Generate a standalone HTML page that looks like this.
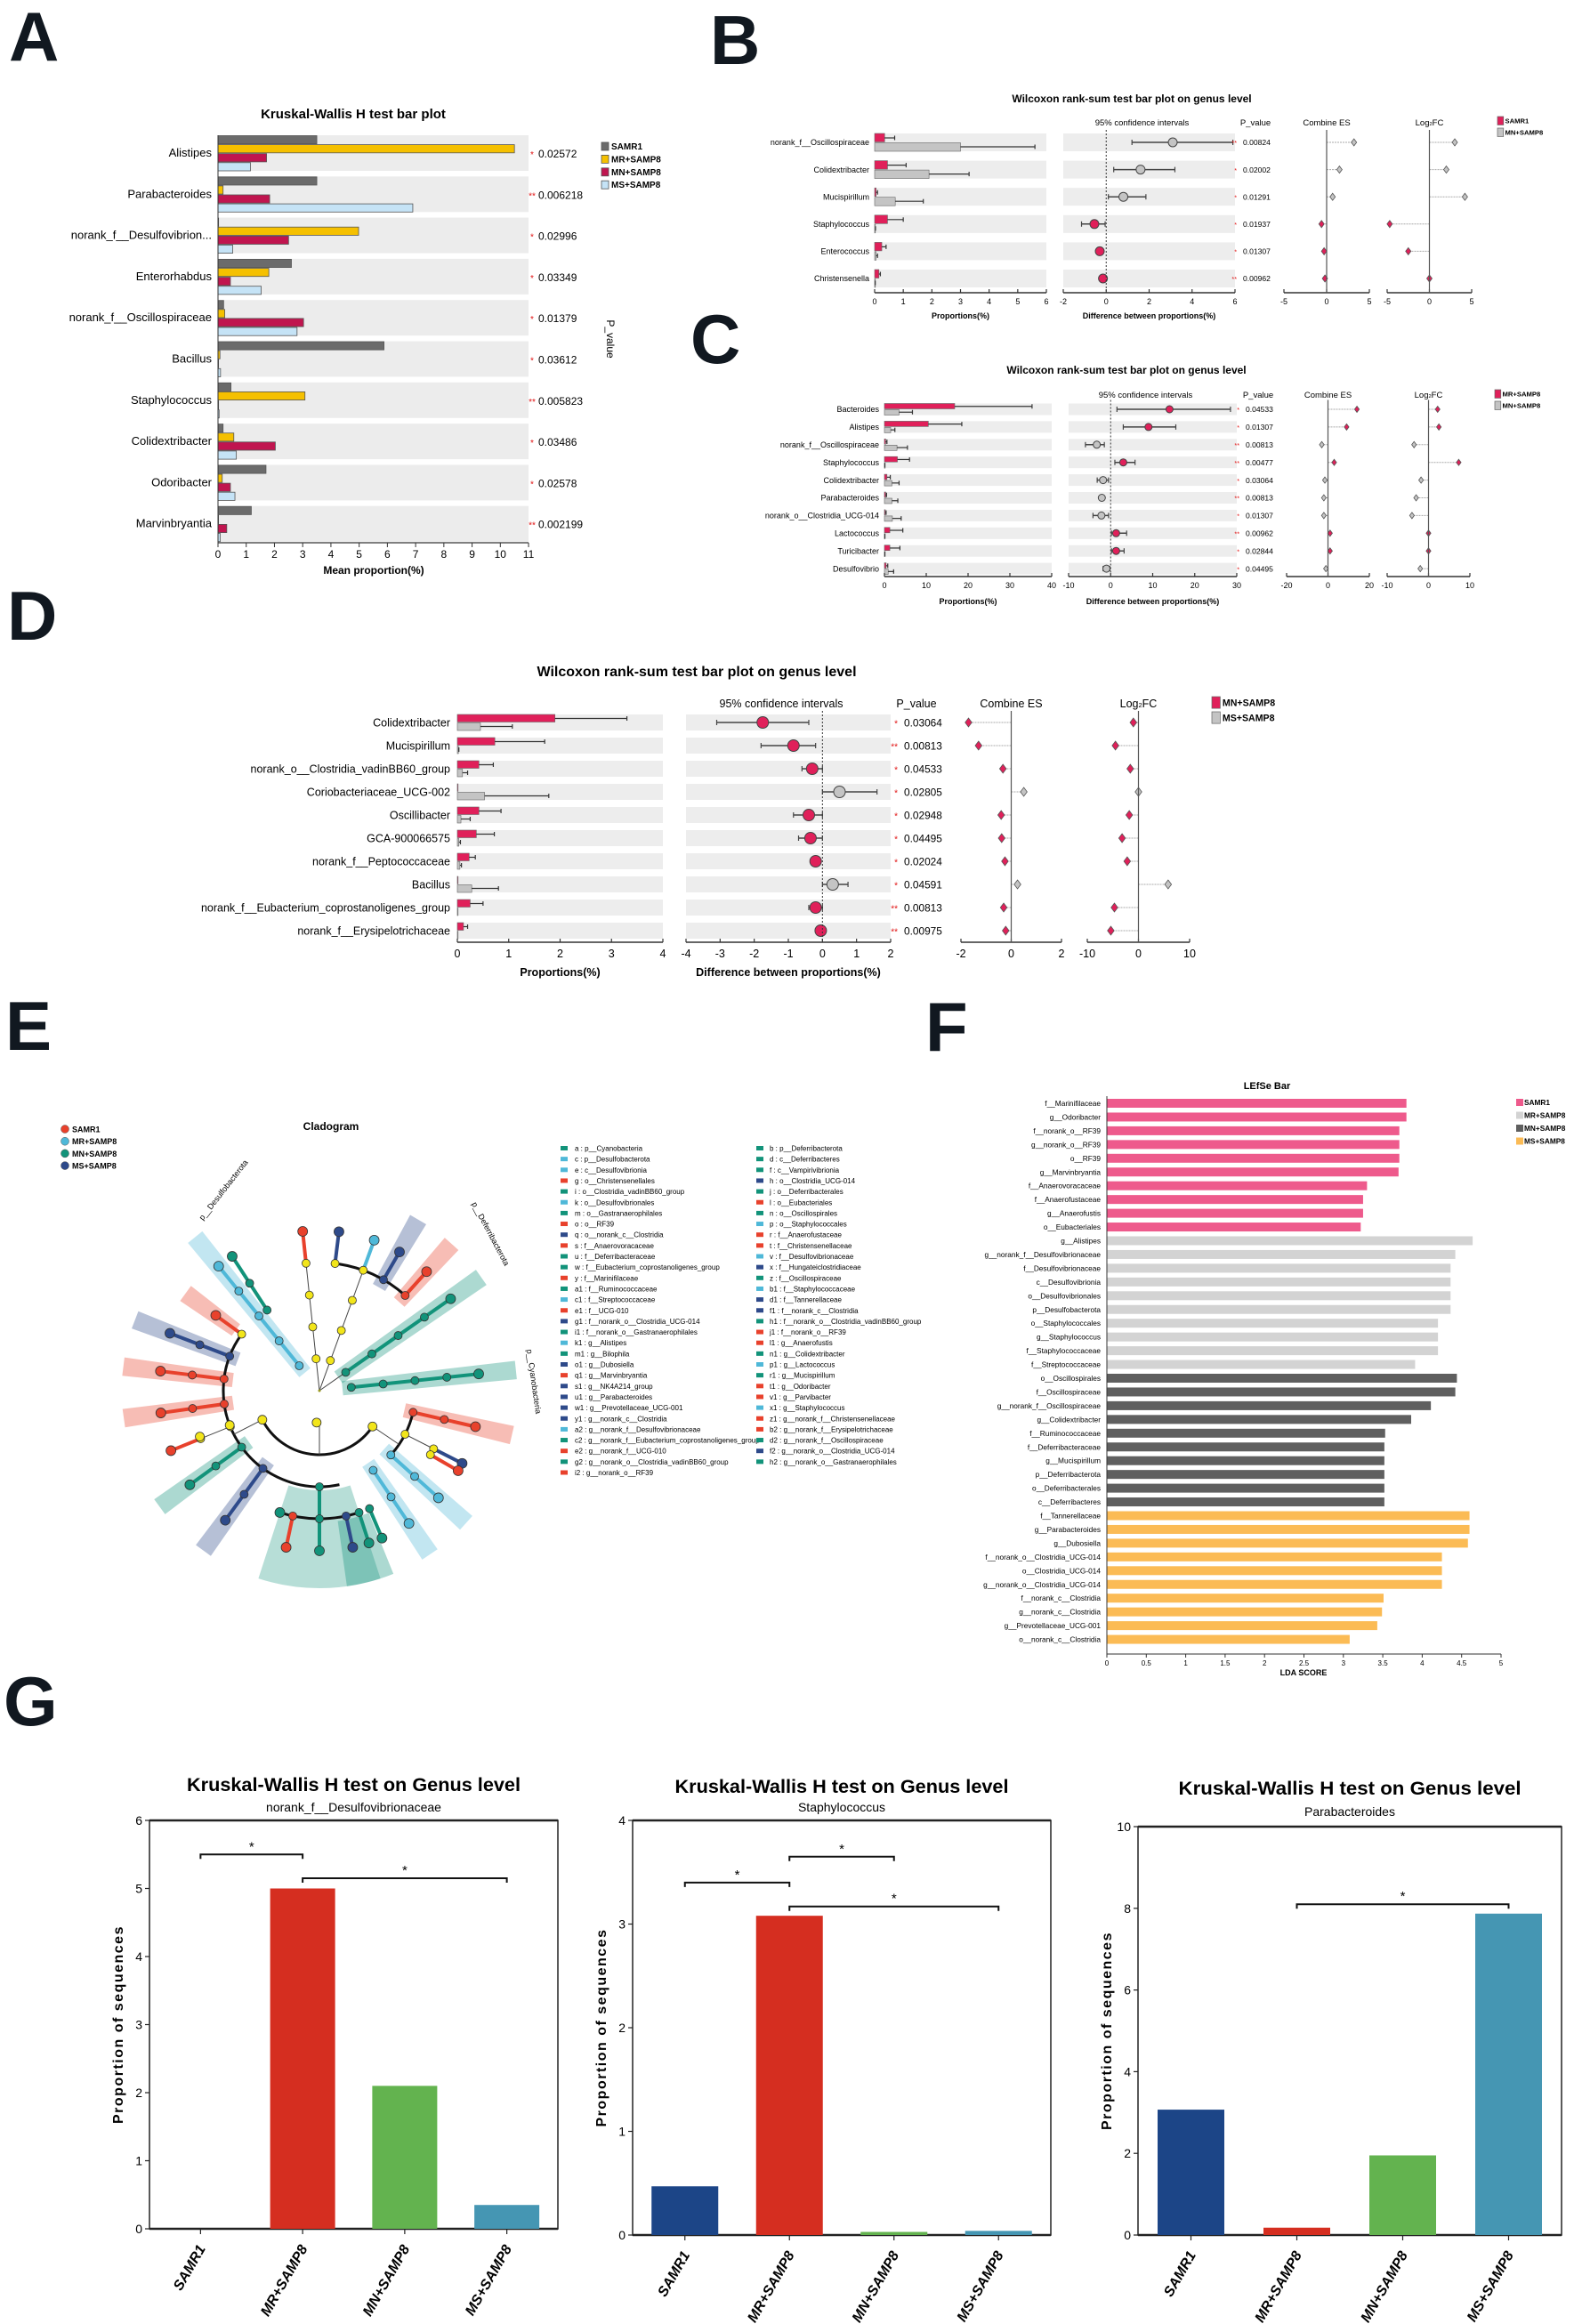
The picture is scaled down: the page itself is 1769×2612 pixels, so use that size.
<!DOCTYPE html>
<html><head><meta charset="utf-8">
<style>
html,body{margin:0;padding:0;background:#fff;}
svg{display:block;font-family:"Liberation Sans Narrow","Liberation Sans",sans-serif;}
.L{font-family:"Liberation Sans",sans-serif;font-weight:bold;}
</style></head>
<body>
<svg id="fig" xmlns="http://www.w3.org/2000/svg" width="1769" height="2612" viewBox="0 0 1769 2612">
<rect x="0" y="0" width="1769" height="2612" fill="#fff"/>
<text class="L" x="10" y="68" font-size="78" fill="#111820">A</text>
<text class="L" x="798" y="72" font-size="78" fill="#111820">B</text>
<text class="L" x="776" y="408" font-size="78" fill="#111820">C</text>
<text class="L" x="8" y="719" font-size="78" fill="#111820">D</text>
<text class="L" x="6" y="1180" font-size="78" fill="#111820">E</text>
<text class="L" x="1040" y="1181" font-size="78" fill="#111820">F</text>
<text class="L" x="4" y="1939" font-size="78" fill="#111820">G</text>
</svg>
<script>
// ---------- Panel A data ----------
const aCats=["Alistipes","Parabacteroides","norank_f__Desulfovibrion...","Enterorhabdus","norank_f__Oscillospiraceae","Bacillus","Staphylococcus","Colidextribacter","Odoribacter","Marvinbryantia"];
const aSAMR1=[3.5,3.5,0.02,2.6,0.2,5.88,0.46,0.18,1.7,1.18];
const aMR=[10.5,0.18,4.98,1.8,0.24,0.07,3.08,0.56,0.15,0.0];
const aMN=[1.72,1.83,2.5,0.44,3.03,0.01,0.02,2.03,0.44,0.31];
const aMS=[1.15,6.9,0.52,1.53,2.8,0.09,0.04,0.65,0.6,0.08];
const aP=["0.02572","0.006218","0.02996","0.03349","0.01379","0.03612","0.005823","0.03486","0.02578","0.002199"];
const aStars=["*","**","*","*","*","*","**","*","*","**"];
const aTicks=[0,1,2,3,4,5,6,7,8,9,10,11];
const aGroups=["SAMR1","MR+SAMP8","MN+SAMP8","MS+SAMP8"];

// ---------- Panel B data ----------
const bCats=["norank_f__Oscillospiraceae","Colidextribacter","Mucispirillum","Staphylococcus","Enterococcus","Christensenella"];
const bP1=[0.35,0.45,0.05,0.45,0.25,0.15];
const bE1=[0.7,1.1,0.1,1.0,0.4,0.2];
const bP2=[3.0,1.9,0.72,0.02,0.05,0.01];
const bE2=[5.6,3.3,1.7,0.03,0.1,0.02];
const bDiff=[3.1,1.6,0.8,-0.55,-0.3,-0.15];
const bLo=[1.2,0.35,0.1,-1.15,-0.3,-0.15];
const bHi=[5.9,3.2,1.85,-0.05,-0.3,-0.15];
const bES=[3.2,1.5,0.7,-0.6,-0.3,-0.2];
const bLFC=[3.0,2.0,4.2,-4.7,-2.5,0];
const bPv=["0.00824","0.02002","0.01291","0.01937","0.01307","0.00962"];
const bSt=["**","*","*","*","*","**"];

// ---------- Panel C data ----------
const cCats=["Bacteroides","Alistipes","norank_f__Oscillospiraceae","Staphylococcus","Colidextribacter","Parabacteroides","norank_o__Clostridia_UCG-014","Lactococcus","Turicibacter","Desulfovibrio"];
const cP1=[16.8,10.5,0.3,3.1,0.6,0.3,0.2,1.3,1.3,0.4];
const cE1=[35.3,18.5,0.6,6.0,1.4,0.5,0.4,4.4,3.7,0.8];
const cP2=[3.5,1.5,3.0,0.05,1.8,1.8,1.9,0.05,0.05,0.9];
const cE2=[6.7,2.5,5.5,0.1,3.5,3.2,4.0,0.1,0.1,2.2];
const cDiff=[14,9,-3.3,3,-1.8,-2.1,-2.2,1.3,1.3,-1];
const cLo=[1.5,3,-6,1,-3.2,-2.5,-4.2,0.2,0.2,-1.8];
const cHi=[28.5,15.5,-1.5,5.8,-0.5,-1.7,-0.5,3.8,3.2,-0.2];
const cES=[14,9,-3,3,-1.5,-2,-2,1,1,-1];
const cLFC=[2.2,2.5,-3.5,7.3,-1.8,-3,-4,0,0,-2];
const cPv=["0.04533","0.01307","0.00813","0.00477","0.03064","0.00813","0.01307","0.00962","0.02844","0.04495"];
const cSt=["*","*","**","**","*","**","*","**","*","*"];

// ---------- Panel D data ----------
const dCats=["Colidextribacter","Mucispirillum","norank_o__Clostridia_vadinBB60_group","Coriobacteriaceae_UCG-002","Oscillibacter","GCA-900066575","norank_f__Peptococcaceae","Bacillus","norank_f__Eubacterium_coprostanoligenes_group","norank_f__Erysipelotrichaceae"];
const dP1=[1.9,0.73,0.42,0.0,0.42,0.37,0.23,0.0,0.25,0.12];
const dE1=[3.3,1.7,0.7,0.0,0.85,0.72,0.35,0.0,0.5,0.2];
const dP2=[0.45,0.02,0.1,0.53,0.07,0.03,0.05,0.28,0.0,0.0];
const dE2=[1.07,0.03,0.2,1.78,0.25,0.06,0.08,0.8,0.0,0.0];
const dDiff=[-1.75,-0.85,-0.3,0.5,-0.4,-0.35,-0.2,0.3,-0.2,-0.05];
const dLo=[-3.1,-1.8,-0.6,0,-0.85,-0.7,-0.2,0,-0.4,-0.05];
const dHi=[-0.4,-0.2,0,1.6,0,0,-0.2,0.75,0,-0.05];
const dES=[-1.7,-1.3,-0.33,0.5,-0.4,-0.38,-0.25,0.25,-0.3,-0.22];
const dLFC=[-1.0,-4.5,-1.6,0,-1.8,-3.2,-2.2,5.8,-4.7,-5.4];
const dPv=["0.03064","0.00813","0.04533","0.02805","0.02948","0.04495","0.02024","0.04591","0.00813","0.00975"];
const dSt=["*","**","*","*","*","*","*","*","**","**"];

// ---------- Panel F data ----------
const fCats=["f__Marinifilaceae","g__Odoribacter","f__norank_o__RF39","g__norank_o__RF39","o__RF39","g__Marvinbryantia","f__Anaerovoracaceae","f__Anaerofustaceae","g__Anaerofustis","o__Eubacteriales",
"g__Alistipes","g__norank_f__Desulfovibrionaceae","f__Desulfovibrionaceae","c__Desulfovibrionia","o__Desulfovibrionales","p__Desulfobacterota","o__Staphylococcales","g__Staphylococcus","f__Staphylococcaceae","f__Streptococcaceae",
"o__Oscillospirales","f__Oscillospiraceae","g__norank_f__Oscillospiraceae","g__Colidextribacter","f__Ruminococcaceae","f__Deferribacteraceae","g__Mucispirillum","p__Deferribacterota","o__Deferribacterales","c__Deferribacteres",
"f__Tannerellaceae","g__Parabacteroides","g__Dubosiella","f__norank_o__Clostridia_UCG-014","o__Clostridia_UCG-014","g__norank_o__Clostridia_UCG-014","f__norank_c__Clostridia","g__norank_c__Clostridia","g__Prevotellaceae_UCG-001","o__norank_c__Clostridia"];
const fLDA=[3.8,3.8,3.71,3.71,3.71,3.7,3.3,3.25,3.25,3.22,
4.64,4.42,4.36,4.36,4.36,4.36,4.2,4.2,4.2,3.91,
4.44,4.42,4.11,3.86,3.53,3.52,3.52,3.52,3.52,3.52,
4.6,4.6,4.58,4.25,4.25,4.25,3.51,3.49,3.43,3.08];
const fGroup=[0,0,0,0,0,0,0,0,0,0,1,1,1,1,1,1,1,1,1,1,2,2,2,2,2,2,2,2,2,2,3,3,3,3,3,3,3,3,3,3];
const fTicks=[0,0.5,1,1.5,2,2.5,3,3.5,4,4.5,5];

// ---------- Panel G data ----------
const gGroups=["SAMR1","MR+SAMP8","MN+SAMP8","MS+SAMP8"];
const g1Vals=[0,5.0,2.1,0.35];
const g2Vals=[0.47,3.08,0.03,0.04];
const g3Vals=[3.07,0.18,1.95,7.87];
const g1Ticks=[0,1,2,3,4,5,6];
const g2Ticks=[0,1,2,3,4];
const g3Ticks=[0,2,4,6,8,10];
const g1Sig=[[0,1,5.5],[1,3,5.15]];
const g2Sig=[[0,1,3.4],[1,2,3.65],[1,3,3.17]];
const g3Sig=[[1,3,8.1]];

// ---------- Panel E legend data ----------
const eCol1=[["a : p__Cyanobacteria","t"],["c : p__Desulfobacterota","l"],["e : c__Desulfovibrionia","l"],["g : o__Christensenellales","r"],["i : o__Clostridia_vadinBB60_group","t"],["k : o__Desulfovibrionales","l"],["m : o__Gastranaerophilales","t"],["o : o__RF39","r"],["q : o__norank_c__Clostridia","n"],["s : f__Anaerovoracaceae","r"],["u : f__Deferribacteraceae","t"],["w : f__Eubacterium_coprostanoligenes_group","t"],["y : f__Marinifilaceae","r"],["a1 : f__Ruminococcaceae","t"],["c1 : f__Streptococcaceae","l"],["e1 : f__UCG-010","r"],["g1 : f__norank_o__Clostridia_UCG-014","n"],["i1 : f__norank_o__Gastranaerophilales","t"],["k1 : g__Alistipes","l"],["m1 : g__Bilophila","t"],["o1 : g__Dubosiella","n"],["q1 : g__Marvinbryantia","r"],["s1 : g__NK4A214_group","n"],["u1 : g__Parabacteroides","n"],["w1 : g__Prevotellaceae_UCG-001","n"],["y1 : g__norank_c__Clostridia","n"],["a2 : g__norank_f__Desulfovibrionaceae","l"],["c2 : g__norank_f__Eubacterium_coprostanoligenes_group","t"],["e2 : g__norank_f__UCG-010","r"],["g2 : g__norank_o__Clostridia_vadinBB60_group","t"],["i2 : g__norank_o__RF39","r"]];
const eCol2=[["b : p__Deferribacterota","t"],["d : c__Deferribacteres","t"],["f : c__Vampirivibrionia","t"],["h : o__Clostridia_UCG-014","n"],["j : o__Deferribacterales","t"],["l : o__Eubacteriales","r"],["n : o__Oscillospirales","t"],["p : o__Staphylococcales","l"],["r : f__Anaerofustaceae","r"],["t : f__Christensenellaceae","r"],["v : f__Desulfovibrionaceae","l"],["x : f__Hungateiclostridiaceae","n"],["z : f__Oscillospiraceae","t"],["b1 : f__Staphylococcaceae","l"],["d1 : f__Tannerellaceae","n"],["f1 : f__norank_c__Clostridia","n"],["h1 : f__norank_o__Clostridia_vadinBB60_group","t"],["j1 : f__norank_o__RF39","r"],["l1 : g__Anaerofustis","r"],["n1 : g__Colidextribacter","t"],["p1 : g__Lactococcus","l"],["r1 : g__Mucispirillum","t"],["t1 : g__Odoribacter","r"],["v1 : g__Parvibacter","r"],["x1 : g__Staphylococcus","l"],["z1 : g__norank_f__Christensenellaceae","r"],["b2 : g__norank_f__Erysipelotrichaceae","r"],["d2 : g__norank_f__Oscillospiraceae","t"],["f2 : g__norank_o__Clostridia_UCG-014","n"],["h2 : g__norank_o__Gastranaerophilales","t"]];
// clade spokes: angle, rStart, rEnd, colour, yellow-until radius, highlight
const eClades=[[129,36,180,"l",0,1],[123,108,180,"t",0,0],[96,36,180,"r",144,0],[70,36,180,"l",144,0],[83,144,180,"n",144,0],[60,144,180,"n",0,1],[48,144,180,"r",0,1],[35,36,180,"t",0,1],[6,36,180,"t",0,1],[-13,108,180,"r",0,1],[-27,108,180,"n",144,0],[-30,144,180,"r",144,0],[-42,108,180,"l",0,1],[-56,108,180,"l",0,1],[-90,108,180,"t",0,0],[-102,144,180,"r",0,0],[-108,144,144,"t",0,0],[-72,144,180,"t",0,0],[-67,144,180,"t",0,0],[-78,144,180,"n",0,0],[-126,108,180,"n",0,1],[-144,108,180,"t",0,1],[-158,108,180,"r",144,0],[-172,108,180,"r",0,1],[173,108,180,"r",0,1],[159,108,180,"n",0,1],[144,108,144,"r",108,1]];

const NS="http://www.w3.org/2000/svg";
const svg=document.getElementById("fig");
function mk(tag,attrs,name,parent){
  const e=document.createElementNS(NS,tag);
  for(const k in attrs) e.setAttribute(k,attrs[k]);
  
  
  (parent||svg).appendChild(e);
  return e;
}
function tx(x,y,s,attrs,name){
  const a=Object.assign({x:x,y:y},attrs||{});
  const e=mk("text",a,name);
  e.textContent=s;
  return e;
}
function lin(x1,y1,x2,y2,st,w,name,extra){
  return mk("line",Object.assign({x1:x1,y1:y1,x2:x2,y2:y2,stroke:st,"stroke-width":w},extra||{}),name);
}

// ================= Panel A =================
(function(){
  const x0=245,pu=31.73,top0=152,step=46.3;
  const X=v=>x0+v*pu;
  const cols=["#6b6b6b","#f5c000","#c0154f","#c5e3f6"];
  const sers=[aSAMR1,aMR,aMN,aMS];
  tx(397,133,"Kruskal-Wallis H test bar plot",{"font-size":15,"font-weight":"bold","text-anchor":"middle"},"panel-a-title");
  for(let i=0;i<aCats.length;i++){
    const t=top0+i*step;
    mk("rect",{x:x0,y:t,width:X(11)-x0,height:40,fill:"#ececec"},"panel-a-row-band");
    for(let k=0;k<4;k++){
      mk("rect",{x:x0,y:t+k*10.1+0.5,width:Math.max(0.6,sers[k][i]*pu),height:9.2,fill:cols[k],stroke:"#555","stroke-width":0.8},"panel-a-bar-"+aGroups[k].toLowerCase().replace("+","-"));
    }
    tx(238,t+24,aCats[i],{"font-size":13,"text-anchor":"end"},"panel-a-category-label");
    tx(598,t+25,aStars[i],{"font-size":10,fill:"#e01010","text-anchor":"middle"},"panel-a-significance");
    tx(605,t+25,aP[i],{"font-size":12},"panel-a-p-value");
  }
  lin(x0,610,X(11),610,"#333",1.2,"panel-a-x-axis");
  lin(x0,top0,x0,610,"#333",1,"panel-a-y-axis");
  aTicks.forEach(v=>{lin(X(v),610,X(v),615,"#333",1,"panel-a-x-tick");tx(X(v),627,String(v),{"font-size":12,"text-anchor":"middle"},"panel-a-x-tick-label");});
  tx(420,645,"Mean proportion(%)",{"font-size":12,"font-weight":"bold","text-anchor":"middle"},"panel-a-x-axis-title");
  tx(682,381,"P_value",{"font-size":12,"text-anchor":"middle",transform:"rotate(90 682 381)"},"panel-a-p-value-title");
  for(let k=0;k<4;k++){
    mk("rect",{x:676,y:160+k*14.4,width:8,height:9,fill:cols[k],stroke:"#555","stroke-width":0.8},"panel-a-legend-swatch");
    tx(687,168+k*14.4,aGroups[k],{"font-size":10,"font-weight":"bold"},"panel-a-legend-label");
  }
})();

// ================= Wilcoxon panels =================
function wil(c,cats,p1,e1,p2,e2,dv,lo,hi,es,lfc,pv,st,leg,tag){
  const pink="#e0205a",gray="#c4c4c4";
  const sc=(ax,v)=>ax.x0+(v-ax.min)/(ax.max-ax.min)*(ax.x1-ax.x0);
  tx(c.titleX,c.titleY,"Wilcoxon rank-sum test bar plot on genus level",{"font-size":c.tfs,"font-weight":"bold","text-anchor":"middle"},tag+"-title");
  tx((c.diff.x0+c.diff.x1)/2-8,c.headY,"95% confidence intervals",{"font-size":c.hfs,"text-anchor":"middle"},tag+"-ci-header");
  tx(c.pX+14,c.headY,"P_value",{"font-size":c.hfs,"text-anchor":"middle"},tag+"-p-value-header");
  tx(sc(c.es,0),c.headY,"Combine ES",{"font-size":c.hfs,"text-anchor":"middle"},tag+"-es-header");
  const lh=tx(sc(c.lfc,0),c.headY,"Log",{"font-size":c.hfs,"text-anchor":"middle"},tag+"-log2fc-header");
  const ts=document.createElementNS(NS,"tspan");ts.setAttribute("font-size",c.hfs*0.6);ts.textContent="2";lh.appendChild(ts);
  const ts2=document.createElementNS(NS,"tspan");ts2.textContent="FC";lh.appendChild(ts2);
  const h=c.bandH, n=cats.length;
  const topY=c.y0-h/2-4;
  for(let i=0;i<n;i++){
    const y=c.y0+i*c.dy;
    mk("rect",{x:c.prop.x0,y:y-h/2,width:c.prop.x1-c.prop.x0,height:h,fill:"#ededed"},tag+"-prop-band");
    mk("rect",{x:c.diff.x0,y:y-h/2,width:c.diff.x1-c.diff.x0,height:h,fill:"#ededed"},tag+"-diff-band");
    tx(c.labX,y+c.fs*0.35,cats[i],{"font-size":c.fs,"text-anchor":"end"},tag+"-category-label");
    const bh=h/2-0.5;
    const w1=Math.max(0.8,sc(c.prop,p1[i])-c.prop.x0);
    mk("rect",{x:c.prop.x0,y:y-h/2,width:w1,height:bh,fill:pink,stroke:"#666","stroke-width":0.6},tag+"-bar-group1");
    if(e1[i]>p1[i]){lin(c.prop.x0+w1,y-h/4,sc(c.prop,e1[i]),y-h/4,"#333",1.2,tag+"-errorbar-group1");lin(sc(c.prop,e1[i]),y-h/4-2.5,sc(c.prop,e1[i]),y-h/4+2.5,"#333",1.2,tag+"-errorcap-group1");}
    const w2=Math.max(0.8,sc(c.prop,p2[i])-c.prop.x0);
    mk("rect",{x:c.prop.x0,y:y+0.5,width:w2,height:bh,fill:gray,stroke:"#666","stroke-width":0.6},tag+"-bar-group2");
    if(e2[i]>p2[i]){lin(c.prop.x0+w2,y+h/4,sc(c.prop,e2[i]),y+h/4,"#333",1.2,tag+"-errorbar-group2");lin(sc(c.prop,e2[i]),y+h/4-2.5,sc(c.prop,e2[i]),y+h/4+2.5,"#333",1.2,tag+"-errorcap-group2");}
    const col=p1[i]>p2[i]?pink:gray;
    if(hi[i]>lo[i]){
      lin(sc(c.diff,lo[i]),y,sc(c.diff,hi[i]),y,"#444",1.5,tag+"-ci-line");
      lin(sc(c.diff,lo[i]),y-3,sc(c.diff,lo[i]),y+3,"#444",1.2,tag+"-ci-cap");
      lin(sc(c.diff,hi[i]),y-3,sc(c.diff,hi[i]),y+3,"#444",1.2,tag+"-ci-cap");
    }
    mk("circle",{cx:sc(c.diff,dv[i]),cy:y,r:c.r,fill:col,stroke:"#444","stroke-width":1},tag+"-diff-point");
    tx(c.pX-7,y+c.fs*0.35,st[i],{"font-size":c.fs*0.8,fill:"#e01010","text-anchor":"end"},tag+"-significance");
    tx(c.pX,y+c.fs*0.35,pv[i],{"font-size":c.fs*0.95},tag+"-p-value");
    [["es",c.es,es[i]],["lfc",c.lfc,lfc[i]]].forEach(([nm,ax,v])=>{
      const z=sc(ax,0),xv=sc(ax,v);
      lin(z,y,xv,y,"#aaa",1,tag+"-"+nm+"-stem",{"stroke-dasharray":"2,1"});
      const d=c.dm;
      mk("path",{d:`M${xv} ${y-d}L${xv+d*0.75} ${y}L${xv} ${y+d}L${xv-d*0.75} ${y}Z`,fill:col,stroke:"#555","stroke-width":0.8},tag+"-"+nm+"-marker");
    });
  }
  lin(sc(c.diff,0),topY,sc(c.diff,0),c.axisY-2,"#333",1,tag+"-zero-line",{"stroke-dasharray":"2,2"});
  [["prop",c.prop],["diff",c.diff],["es",c.es],["lfc",c.lfc]].forEach(([nm,ax])=>{
    lin(ax.x0,c.axisY,ax.x1,c.axisY,"#333",1.5,tag+"-"+nm+"-axis");
    ax.ticks.forEach(v=>{lin(sc(ax,v),c.axisY-4,sc(ax,v),c.axisY,"#333",1.2,tag+"-"+nm+"-tick");tx(sc(ax,v),c.tickY,String(v),{"font-size":c.fs,"text-anchor":"middle"},tag+"-"+nm+"-tick-label");});
  });
  lin(sc(c.es,0),topY,sc(c.es,0),c.axisY,"#555",1.2,tag+"-es-zero-line");
  lin(sc(c.lfc,0),topY,sc(c.lfc,0),c.axisY,"#555",1.2,tag+"-lfc-zero-line");
  tx((c.prop.x0+c.prop.x1)/2,c.xtY,"Proportions(%)",{"font-size":c.fs,"font-weight":"bold","text-anchor":"middle"},tag+"-prop-axis-title");
  tx((c.diff.x0+c.diff.x1)/2,c.xtY,"Difference between proportions(%)",{"font-size":c.fs,"font-weight":"bold","text-anchor":"middle"},tag+"-diff-axis-title");
  [[pink,leg[0]],[gray,leg[1]]].forEach(([cl,nm],k)=>{
    mk("rect",{x:c.legX,y:c.legY+k*c.legDy,width:c.fs*0.75,height:c.fs*1.05,fill:cl,stroke:"#666","stroke-width":0.7},tag+"-legend-swatch");
    tx(c.legX+c.fs*0.95,c.legY+k*c.legDy+c.fs*0.85,nm,{"font-size":c.fs*0.85,"font-weight":"bold"},tag+"-legend-label");
  });
}
wil({titleX:1272,titleY:115,tfs:12,headY:141,hfs:9.5,y0:160,dy:30.6,bandH:20,fs:9,r:5,dm:4,
  prop:{x0:983,x1:1176,min:0,max:6,ticks:[0,1,2,3,4,5,6]},diff:{x0:1195,x1:1388,min:-2,max:6,ticks:[-2,0,2,4,6]},
  es:{x0:1443,x1:1539,min:-5,max:5,ticks:[-5,0,5]},lfc:{x0:1559,x1:1654,min:-5,max:5,ticks:[-5,0,5]},
  axisY:329,tickY:342,xtY:358,labX:977,pX:1397,legX:1683,legY:131,legDy:13},
  bCats,bP1,bE1,bP2,bE2,bDiff,bLo,bHi,bES,bLFC,bPv,bSt,["SAMR1","MN+SAMP8"],"panel-b");
wil({titleX:1266,titleY:420,tfs:12,headY:447,hfs:9.5,y0:460,dy:19.9,bandH:13,fs:9,r:4,dm:3.5,
  prop:{x0:994,x1:1182,min:0,max:40,ticks:[0,10,20,30,40]},diff:{x0:1201,x1:1390,min:-10,max:30,ticks:[-10,0,10,20,30]},
  es:{x0:1446,x1:1539,min:-20,max:20,ticks:[-20,0,20]},lfc:{x0:1559,x1:1652,min:-10,max:10,ticks:[-10,0,10]},
  axisY:648,tickY:661,xtY:679,labX:988,pX:1400,legX:1680,legY:438,legDy:13},
  cCats,cP1,cE1,cP2,cE2,cDiff,cLo,cHi,cES,cLFC,cPv,cSt,["MR+SAMP8","MN+SAMP8"],"panel-c");
wil({titleX:783,titleY:760,tfs:16,headY:795,hfs:12.5,y0:812,dy:26,bandH:18,fs:12.5,r:6.5,dm:5,
  prop:{x0:514,x1:745,min:0,max:4,ticks:[0,1,2,3,4]},diff:{x0:771,x1:1001,min:-4,max:2,ticks:[-4,-3,-2,-1,0,1,2]},
  es:{x0:1080,x1:1193,min:-2,max:2,ticks:[-2,0,2]},lfc:{x0:1222,x1:1337,min:-10,max:10,ticks:[-10,0,10]},
  axisY:1059,tickY:1076,xtY:1097,labX:506,pX:1016,legX:1362,legY:783,legDy:17},
  dCats,dP1,dE1,dP2,dE2,dDiff,dLo,dHi,dES,dLFC,dPv,dSt,["MN+SAMP8","MS+SAMP8"],"panel-d");

// ================= Panel E (cladogram) =================
(function(){
  const C={r:"#e8412c",l:"#4fb8d8",t:"#12937a",n:"#2e4a8a",y:"#f2e51a"};
  const cx=359,cy=1563;
  const P=(a,r)=>[cx+r*Math.cos(a*Math.PI/180),cy-r*Math.sin(a*Math.PI/180)];
  tx(372,1270,"Cladogram",{"font-size":12,"font-weight":"bold","text-anchor":"middle"},"panel-e-title");
  [["SAMR1","r"],["MR+SAMP8","l"],["MN+SAMP8","t"],["MS+SAMP8","n"]].forEach(([nm,k],i)=>{
    mk("circle",{cx:73,cy:1269+i*13.7,r:4.5,fill:C[k],stroke:"#555","stroke-width":0.5},"panel-e-legend-marker");
    tx(81,1272.5+i*13.7,nm,{"font-size":9,"font-weight":"bold"},"panel-e-legend-label");
  });
  // highlight strips (constant pixel width)
  eClades.forEach(([a,r0,r1,k,yu,hl])=>{
    if(!hl) return;
    const ra=Math.max(r0,yu)+(yu?8:-10), rb=r1+42, hw=8;
    const rad=a*Math.PI/180, nx=Math.sin(rad)*hw, ny=Math.cos(rad)*hw;
    const [ax,ay]=P(a,ra),[bx,by]=P(a,rb);
    mk("path",{d:`M${ax-nx} ${ay-ny}L${bx-nx*1.3} ${by-ny*1.3}L${bx+nx*1.3} ${by+ny*1.3}L${ax+nx} ${ay+ny}Z`,fill:C[k],"fill-opacity":0.35},"panel-e-clade-highlight");
  });
  [[-108,-72]].forEach(([a1,a2])=>{const p1=P(a1,112),p2=P(a1,222),p3=P(a2,222),p4=P(a2,112);
    mk("path",{d:`M${p1}L${p2}A222 222 0 0 0 ${p3}L${p4}A112 112 0 0 1 ${p1}Z`,fill:C.t,"fill-opacity":0.3},"panel-e-big-highlight");});
  [[-82,-68]].forEach(([a1,a2])=>{const p1=P(a1,148),p2=P(a1,222),p3=P(a2,222),p4=P(a2,148);
    mk("path",{d:`M${p1}L${p2}A222 222 0 0 0 ${p3}L${p4}A148 148 0 0 1 ${p1}Z`,fill:C.t,"fill-opacity":0.35},"panel-e-sub-highlight");});
  function arc(r,a1,a2,name){const p1=P(a1,r),p2=P(a2,r);const large=((a2-a1+360)%360)>180?1:0;
    mk("path",{d:`M${p1}A${r} ${r} 0 ${large} 0 ${p2}`,fill:"none",stroke:"#111","stroke-width":3},name);}
  arc(108,144,282,"panel-e-arc-outer");
  arc(108,-41,-13,"panel-e-arc-right");
  arc(72,207,326,"panel-e-arc-inner");
  arc(144,48,83,"panel-e-arc-top");
  arc(144,-108,-72,"panel-e-arc-bottom");
  eClades.forEach(([a,r0,r1,k,yu])=>{
    for(let r=r0;r<r1;r+=36){
      const [x1,y1]=P(a,r),[x2,y2]=P(a,r+36);
      lin(x1,y1,x2,y2,r+36<=yu?"#444":C[k],r+36<=yu?1:4,"panel-e-branch");
    }
  });
  [[-90,36,72],[-153,72,108],[-34,72,108],[96,0,36],[70,0,36],[35,0,36]].forEach(([a,r0,r1])=>{const [x1,y1]=P(a,r0),[x2,y2]=P(a,r1);lin(x1,y1,x2,y2,"#444",1,"panel-e-stem");});
  eClades.forEach(([a,r0,r1,k,yu])=>{
    for(let r=r0;r<=r1;r+=36){
      const [x,y]=P(a,r);
      mk("circle",{cx:x,cy:y,r:r===r1?5.5:4.5,fill:r<=yu?C.y:C[k],stroke:"#333","stroke-width":0.8},"panel-e-node");
    }
  });
  [[-95,36],[-153,72],[-34,72],[-159,108],[-159,144]].forEach(([a,r])=>{const [x,y]=P(a,r);mk("circle",{cx:x,cy:y,r:5,fill:C.y,stroke:"#333","stroke-width":0.8},"panel-e-node");});
  mk("circle",{cx:cx,cy:cy,r:1.5,fill:"#9a9a20"},"panel-e-root");
  tx(228,1372,"p__Desulfobacterota",{"font-size":9,transform:"rotate(-52 228 1372)"},"panel-e-phylum-label");
  tx(530,1353,"p__Deferribacterota",{"font-size":9,transform:"rotate(62 530 1353)"},"panel-e-phylum-label");
  tx(592,1517,"p__Cyanobacteria",{"font-size":9,transform:"rotate(82 592 1517)"},"panel-e-phylum-label");
  eCol1.forEach(([s,k],i)=>{const y=1291+i*12.15;mk("rect",{x:630,y:y-3,width:8,height:5,fill:C[k]},"panel-e-key-swatch");tx(646,y+2.5,s,{"font-size":8},"panel-e-key-label");});
  eCol2.forEach(([s,k],i)=>{const y=1291+i*12.15;mk("rect",{x:850,y:y-3,width:8,height:5,fill:C[k]},"panel-e-key-swatch");tx(865,y+2.5,s,{"font-size":8},"panel-e-key-label");});
})();

// ================= Panel F (LEfSe) =================
(function(){
  const x0=1244,pu=(1687-1244)/5,y0=1240,dy=15.45;
  const X=v=>x0+v*pu;
  const cols=["#ee5a8c","#d3d3d3","#5f5f5f","#fbbb55"];
  const names=["SAMR1","MR+SAMP8","MN+SAMP8","MS+SAMP8"];
  tx(1424,1224,"LEfSe Bar",{"font-size":11,"font-weight":"bold","text-anchor":"middle","font-family":"Liberation Sans, sans-serif"},"panel-f-title");
  for(let i=0;i<fCats.length;i++){
    const y=y0+i*dy;
    mk("rect",{x:x0,y:y-5,width:fLDA[i]*pu,height:10,fill:cols[fGroup[i]]},"panel-f-bar");
    tx(1237,y+3,fCats[i],{"font-size":8.3,"text-anchor":"end","font-family":"Liberation Sans, sans-serif"},"panel-f-category-label");
  }
  lin(x0,1232,x0,1859,"#333",1,"panel-f-y-axis");
  lin(x0,1859,X(5),1859,"#333",1,"panel-f-x-axis");
  fTicks.forEach(v=>{lin(X(v),1859,X(v),1863,"#333",1,"panel-f-tick");tx(X(v),1872,String(v),{"font-size":8,"text-anchor":"middle","font-family":"Liberation Sans, sans-serif"},"panel-f-tick-label");});
  tx(1465,1883,"LDA SCORE",{"font-size":9,"font-weight":"bold","text-anchor":"middle","font-family":"Liberation Sans, sans-serif"},"panel-f-x-axis-title");
  names.forEach((nm,k)=>{mk("rect",{x:1704,y:1235+k*14.5,width:8,height:8,fill:cols[k]},"panel-f-legend-swatch");tx(1713,1242+k*14.5,nm,{"font-size":8.3,"font-weight":"bold","font-family":"Liberation Sans, sans-serif"},"panel-f-legend-label");});
})();

// ================= Panel G =================
function gchart(o,vals,ticks,sig,sub,tag){
  const cols=["#1c4587","#d52e20","#63b34f","#4596b3"];
  const Y=v=>o.bot-(v/ticks[ticks.length-1])*(o.bot-o.top);
  const step=(o.right-o.left)/4;
  const cxs=[0,1,2,3].map(i=>o.left+step*(i+0.5));
  tx((o.left+o.right)/2,o.titleY,"Kruskal-Wallis H test on Genus level",{"font-size":21,"font-weight":"bold","text-anchor":"middle",textLength:o.tl,lengthAdjust:"spacingAndGlyphs"},tag+"-title");
  tx((o.left+o.right)/2,o.subY,sub,{"font-size":14,"text-anchor":"middle"},tag+"-subtitle");
  mk("rect",{x:o.left,y:o.top,width:o.right-o.left,height:o.bot-o.top,fill:"none",stroke:"#222","stroke-width":1.5},tag+"-frame");
  lin(o.left,o.top,o.right,o.top,"#222",2.5,tag+"-top-border");
  lin(o.left,o.bot,o.right,o.bot,"#222",2.5,tag+"-x-axis");
  vals.forEach((v,i)=>{
    mk("rect",{x:cxs[i]-o.bw/2,y:Y(v),width:o.bw,height:o.bot-Y(v),fill:cols[i]},tag+"-bar-"+gGroups[i].toLowerCase().replace("+","-"));
    lin(cxs[i],o.bot,cxs[i],o.bot+6,"#222",1.2,tag+"-x-tick");
    const lx=cxs[i]+6,ly=o.bot+22;
    tx(lx,ly,gGroups[i],{"font-size":16,"font-weight":"bold","font-style":"italic","text-anchor":"end",transform:`rotate(-60 ${lx} ${ly})`,"font-family":"Liberation Sans, sans-serif"},tag+"-x-tick-label");
  });
  ticks.forEach(v=>{lin(o.left-5,Y(v),o.left,Y(v),"#222",1.2,tag+"-y-tick");tx(o.left-8,Y(v)+5,String(v),{"font-size":14,"text-anchor":"end"},tag+"-y-tick-label");});
  const yl=o.left-30,ym=(o.top+o.bot)/2;
  tx(yl,ym,"Proportion of sequences",{"font-size":16,"font-weight":"bold","text-anchor":"middle","letter-spacing":"1.5",transform:`rotate(-90 ${yl} ${ym})`,"font-family":"Liberation Sans, sans-serif"},tag+"-y-axis-title");
  sig.forEach(([a,b,v])=>{
    const y=Y(v),xa=cxs[a],xb=cxs[b];
    mk("path",{d:`M${xa} ${y+5}L${xa} ${y}L${xb} ${y}L${xb} ${y+5}`,fill:"none",stroke:"#111","stroke-width":2},tag+"-sig-bracket");
    tx((xa+xb)/2,y-4,"*",{"font-size":15,"text-anchor":"middle"},tag+"-sig-star");
  });
}
gchart({left:168,right:627,top:2046,bot:2505,bw:73,titleY:2013,subY:2036,tl:375},g1Vals,g1Ticks,g1Sig,"norank_f__Desulfovibrionaceae","panel-g-chart1");
gchart({left:711,right:1181,top:2046,bot:2512,bw:75,titleY:2015,subY:2036,tl:375},g2Vals,g2Ticks,g2Sig,"Staphylococcus","panel-g-chart2");
gchart({left:1279,right:1755,top:2053,bot:2512,bw:75,titleY:2017,subY:2041,tl:385},g3Vals,g3Ticks,g3Sig,"Parabacteroides","panel-g-chart3");
</script>
</body></html>
